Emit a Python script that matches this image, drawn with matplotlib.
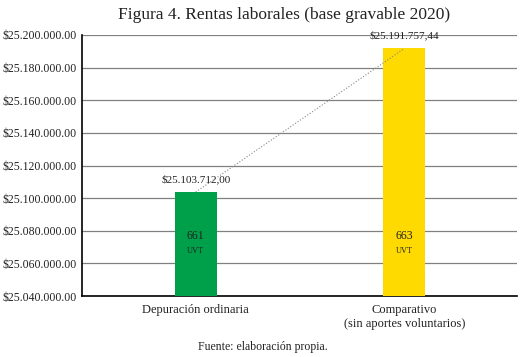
import matplotlib.pyplot as plt
from matplotlib.ticker import FuncFormatter

categories = ['Depuración ordinaria', 'Comparativo\n(sin aportes voluntarios)']
values = [25103712.00, 25191757.44]
value_labels = ['$25.103.712,00', '$25.191.757,44']
uvt = ['661', '663']
colors = ['#00A04B', '#FFDA00']

plt.rcParams['font.family'] = ['Liberation Serif', 'DejaVu Serif']

fig = plt.figure(figsize=(5.28, 3.57), dpi=100)
ax = fig.add_axes([82/528, 1 - 296/357, 435/528, 261/357])

x = [0, 1]
ax.bar(x, values, width=0.2, color=colors, zorder=3)
ax.plot(x, values, linestyle=':', color='#888888', linewidth=0.8, zorder=4)

for i in range(len(x)):
    ax.text(x[i], values[i] + 5000, value_labels[i], ha='center', va='bottom', fontsize=8, color='#222222', zorder=5)
    ax.text(x[i], 25076800, uvt[i], ha='center', va='center', fontsize=8.5, color='#222222', zorder=5)
    ax.text(x[i], 25067600, 'UVT', ha='center', va='center', fontsize=6, color='#222222', zorder=5)

ax.set_ylim(25040000, 25200000)
ax.set_yticks([25040000 + 20000*i for i in range(9)])
ax.yaxis.set_major_formatter(FuncFormatter(lambda v, p: '$' + f'{v:,.2f}'.replace(',', '.')))
ax.set_xlim(-0.545, 1.54)
ax.set_xticks(x)
ax.set_xticklabels(categories, fontsize=9, color='#222222')
ax.tick_params(axis='y', labelsize=8.5, labelcolor='#222222', length=0, pad=4)
ax.tick_params(axis='x', length=0, pad=6)
ax.grid(axis='y', color='#808080', linewidth=0.9, zorder=0)
for s in ['top', 'right']:
    ax.spines[s].set_visible(False)
ax.spines['left'].set_linewidth(1.2)
ax.spines['bottom'].set_linewidth(1.2)

fig.text(284/528, 1 - 15/357, 'Figura 4. Rentas laborales (base gravable 2020)', ha='center', va='center', fontsize=12.5, color='#222222')
fig.text(263/528, 1 - 347/357, 'Fuente: elaboración propia.', ha='center', va='center', fontsize=8.5, color='#222222')

fig.savefig('out.png', dpi=100)
